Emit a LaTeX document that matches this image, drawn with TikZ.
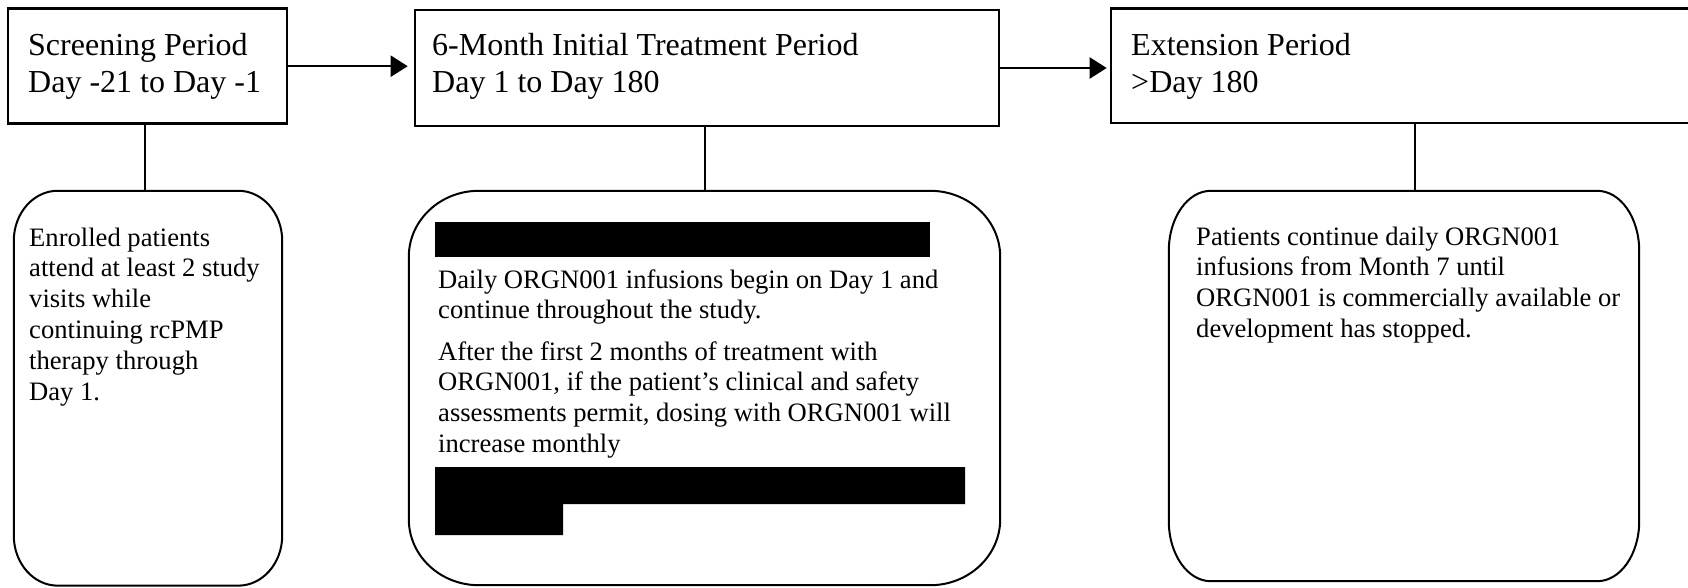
\documentclass[tikz,border=0pt]{standalone}
\usepackage{fontspec}
\setmainfont{Liberation Serif}
\usetikzlibrary{arrows.meta}
\tikzset{
  periodbox/.style={draw=black, line width=2.6pt, rectangle, inner sep=0pt},
  roundshape/.style={rectangle, draw=none, inner sep=0pt},
  rline/.style={draw=black, line width=2pt},
  flowarrow/.style={draw=black, line width=2.3pt, -{Triangle[length=17pt,width=21pt]}},
  linkline/.style={draw=black, line width=2pt},
  titletext/.style={align=left, inner sep=0pt, anchor=base west, font=\fontsize{32}{37}\selectfont},
  bodytext/.style={align=left, inner sep=0pt, anchor=base west, font=\fontsize{26.6}{30.8}\selectfont},
  redact/.style={fill=black}
}
\newcommand{\rboutline}[3]{%
  \draw[rline] ([xshift=#2]#1.north west) -- ([xshift=-#2]#1.north east)
    arc[start angle=90, end angle=0, x radius=#2, y radius=#3]
    -- ([yshift=#3]#1.south east)
    arc[start angle=0, end angle=-90, x radius=#2, y radius=#3]
    -- ([xshift=#2]#1.south west)
    arc[start angle=270, end angle=180, x radius=#2, y radius=#3]
    -- ([yshift=-#3]#1.north west)
    arc[start angle=180, end angle=90, x radius=#2, y radius=#3] -- cycle;}
\begin{document}
\begin{tikzpicture}[x=1pt, y=1pt]
\useasboundingbox (0,0) rectangle (1688,-587);

% period boxes
\node[periodbox, minimum width=279pt, minimum height=115pt] (b1) at (147.5,-66.2) {};
\node[periodbox, minimum width=584pt, minimum height=116pt] (b2) at (707,-68) {};
\node[periodbox, minimum width=585pt, minimum height=114.5pt] (b3) at (1403.5,-65.8) {};

% titles (anchor = baseline of last line)
\node[titletext] (t1) at (28,-92) {Screening Period\\Day -21 to Day -1};
\node[titletext] (t2) at (432,-92) {6-Month Initial Treatment Period\\Day 1 to Day 180};
\node[titletext] (t3) at (1131,-92) {Extension Period\\>Day 180};

% arrows
\draw[flowarrow, shorten >=6pt] (b1.east) -- (b1.east -| b2.west);
\draw[flowarrow, shorten >=3pt] (b2.east) -- (b2.east -| b3.west);

% rounded boxes
\node[roundshape, minimum width=268pt, minimum height=394.5pt] (r1) at (148,-388.2) {};
\node[roundshape, minimum width=591pt, minimum height=394pt] (r2) at (704.5,-388) {};
\node[roundshape, minimum width=470pt, minimum height=390pt] (r3) at (1404,-386) {};
\rboutline{r1}{44pt}{50pt}
\rboutline{r2}{70pt}{66pt}
\rboutline{r3}{42pt}{60pt}

% connectors
\draw[linkline] ([xshift=-3.5pt]r1.north) -- ([xshift=-3.5pt]r1.north |- b1.south);
\draw[linkline] (r2.north) -- (r2.north |- b2.south);
\draw[linkline] ([xshift=11pt]r3.north) -- ([xshift=11pt]r3.north |- b3.south);

% body texts (anchor = baseline of last line)
\node[bodytext] (d1) at (29,-400) {Enrolled patients\\attend at least 2 study\\visits while\\continuing rcPMP\\therapy through\\Day 1.};
\node[bodytext] (d2) at (438,-452.4) {Daily ORGN001 infusions begin on Day 1 and\\continue throughout the study.\\[10.4pt]After the first 2 months of treatment with\\ORGN001, if the patient’s clinical and safety\\assessments permit, dosing with ORGN001 will\\increase monthly};
\node[bodytext] (d3) at (1196,-337.4) {Patients continue daily ORGN001\\infusions from Month 7 until\\ORGN001 is commercially available or\\development has stopped.};

% redaction bars
\fill[redact] (435,-222) rectangle (930,-257);
\fill[redact] (435,-467) -- (965,-467) -- (965,-504) -- (563,-504) -- (563,-535) -- (435,-535) -- cycle;
\end{tikzpicture}
\end{document}
